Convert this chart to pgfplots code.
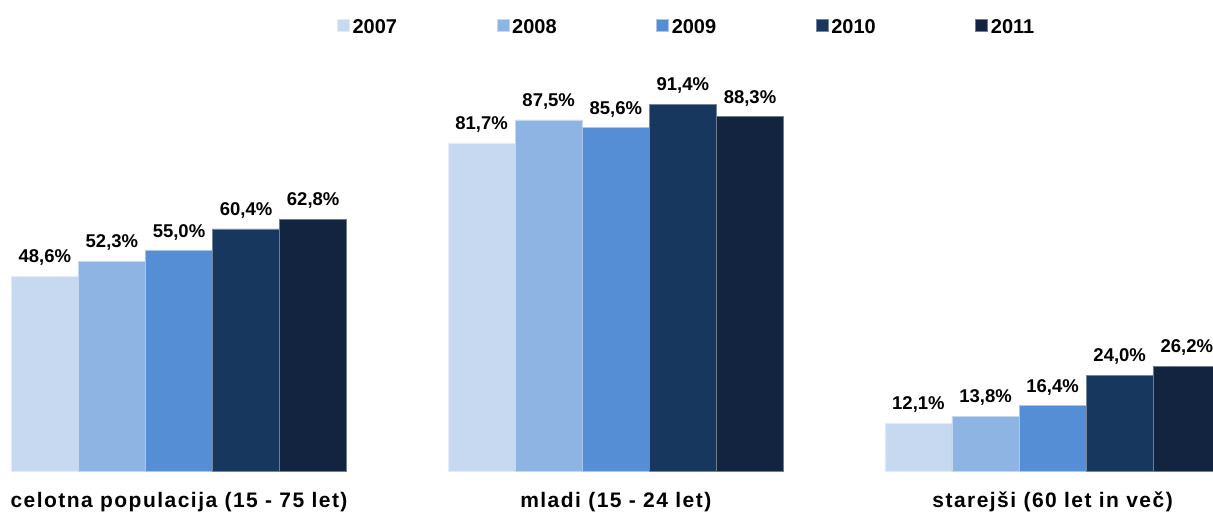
\documentclass[border=0pt]{standalone}
\usepackage{fontspec}
\setmainfont{Liberation Sans}
\newfontfamily\catfont[LetterSpace=7]{Liberation Sans}
\usepackage{pgfplots}
\pgfplotsset{compat=1.18}

\definecolor{cA}{HTML}{C6D9F1}
\definecolor{cB}{HTML}{8EB4E3}
\definecolor{cC}{HTML}{558ED5}
\definecolor{cD}{HTML}{17375E}
\definecolor{cE}{HTML}{12243F}

\begin{document}
\begin{tikzpicture}
\useasboundingbox (0,0) rectangle (1213pt,513pt);
\clip (0,0) rectangle (1213pt,513pt);
\begin{axis}[
    at={(0pt,41.3pt)}, anchor=south west,
    scale only axis, width=1213pt, height=471.7pt,
    xmin=-0.4098, xmax=2.3672, ymin=0, ymax=117.34,
    axis line style={draw=none},
    major tick length=0pt,
    ytick=\empty,
    xtick={0,1,2},
    xticklabels={celotna populacija (15 - 75 let), mladi (15 - 24 let), starejši (60 let in več)},
    xticklabel style={anchor=base, yshift=-35.8pt, inner sep=0pt,
        font=\fontsize{21}{25}\selectfont\catfont\bfseries},
    ybar, bar width=0.1536,
    /pgf/number format/.cd, fixed, fixed zerofill, precision=1, use comma, assume math mode=true,
    /pgfplots/.cd,
    nodes near coords={\pgfmathprintnumber{\pgfplotspointmeta}\%},
    every node near coord/.append style={anchor=base, yshift=13.5pt, inner sep=0pt,
        font=\fontsize{18.5}{22}\selectfont\bfseries, text=black},
    legend columns=5,
    legend image code/.code={\fill[#1] (0pt,-4pt) rectangle (12pt,8pt);},
    legend style={at={(rel axis cs:0.2778,0.943)}, anchor=west, draw=none, fill=none,
        inner sep=0pt, outer sep=0pt,
        font=\fontsize{20}{24}\selectfont\bfseries,
        nodes={inner sep=0pt},
        /tikz/every odd column/.style={column sep=3pt},
        /tikz/every even column/.style={column sep=99.5pt}},
]
\addplot[fill=cA, draw=cA!50!white, line width=0.6pt, bar shift=-0.3072]
    coordinates {(0,48.6) (1,81.7) (2,12.1)};
\addplot[fill=cB, draw=cB!50!white, line width=0.6pt, bar shift=-0.1536]
    coordinates {(0,52.3) (1,87.5) (2,13.8)};
\addplot[fill=cC, draw=cC!50!white, line width=0.6pt, bar shift=0]
    coordinates {(0,55.0) (1,85.6) (2,16.4)};
\addplot[fill=cD, draw=cD!60!white, line width=0.6pt, bar shift=0.1536]
    coordinates {(0,60.4) (1,91.4) (2,24.0)};
\addplot[fill=cE, draw=cE!60!white, line width=0.6pt, bar shift=0.3072]
    coordinates {(0,62.8) (1,88.3) (2,26.2)};
\legend{2007,2008,2009,2010,2011}
\end{axis}
\end{tikzpicture}
\end{document}
